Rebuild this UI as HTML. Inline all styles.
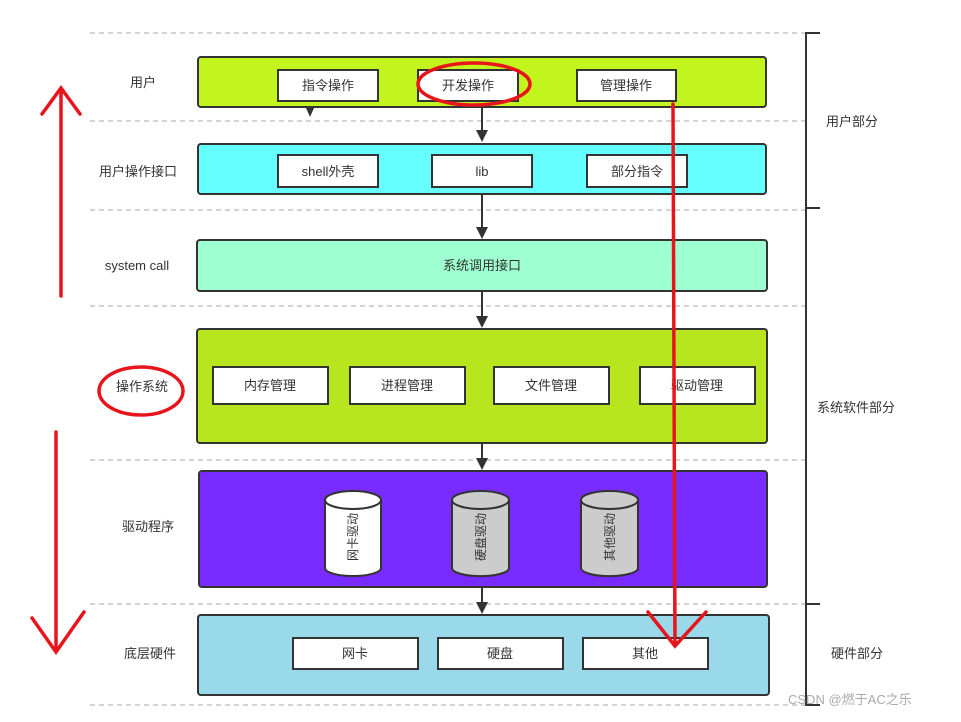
<!DOCTYPE html>
<html><head><meta charset="utf-8"><style>
body{margin:0;background:#fff;}
svg text{font-family:"Liberation Sans","Noto Sans CJK SC",sans-serif;font-size:13px;fill:#333;}
</style></head><body>
<svg width="961" height="717" xmlns="http://www.w3.org/2000/svg">
<g stroke="#aaa" stroke-dasharray="5,4" stroke-width="1">
<line x1="90" y1="33" x2="805" y2="33"/><line x1="90" y1="121" x2="805" y2="121"/>
<line x1="90" y1="210" x2="805" y2="210"/><line x1="90" y1="306" x2="805" y2="306"/>
<line x1="90" y1="460" x2="805" y2="460"/><line x1="90" y1="604" x2="805" y2="604"/>
<line x1="90" y1="705" x2="805" y2="705"/>
</g>
<g stroke="#333" stroke-width="2" fill="none">
<path d="M820 33H806V208H820M806 208V604H820M806 604V705H820"/>
</g>
<g stroke="#333" stroke-width="2">
<rect x="198" y="57" width="568" height="50" rx="3" fill="#c2f41e"/>
<rect x="198" y="144" width="568" height="50" rx="3" fill="#66ffff"/>
<rect x="197" y="240" width="570" height="51" rx="3" fill="#9effd0"/>
<rect x="197" y="329" width="570" height="114" rx="3" fill="#b8e61e"/>
<rect x="199" y="471" width="568" height="116" rx="3" fill="#782cff"/>
<rect x="198" y="615" width="571" height="80" rx="3" fill="#99d9ea"/>
</g>
<g stroke="#333" stroke-width="2" fill="#fff">
<rect x="278" y="70" width="100" height="31"/><rect x="418" y="70" width="100" height="31"/><rect x="577" y="70" width="99" height="31"/>
<rect x="278" y="155" width="100" height="32"/><rect x="432" y="155" width="100" height="32"/><rect x="587" y="155" width="100" height="32"/>
<rect x="213" y="367" width="115" height="37"/><rect x="350" y="367" width="115" height="37"/><rect x="494" y="367" width="115" height="37"/><rect x="640" y="367" width="115" height="37"/>
<rect x="293" y="638" width="125" height="31"/><rect x="438" y="638" width="125" height="31"/><rect x="583" y="638" width="125" height="31"/>
</g>
<g stroke="#333" stroke-width="2">
<path d="M325 500V568A28 8 0 0 0 381 568V500" fill="#fff"/><ellipse cx="353" cy="500" rx="28" ry="9" fill="#fff"/>
<path d="M452 500V568A28 8 0 0 0 509 568V500" fill="#ccc"/><ellipse cx="480.5" cy="500" rx="28.5" ry="9" fill="#ccc"/>
<path d="M581 500V568A28 8 0 0 0 638 568V500" fill="#ccc"/><ellipse cx="609.5" cy="500" rx="28.5" ry="9" fill="#ccc"/>
</g>
<g stroke="#333" stroke-width="2">
<line x1="482" y1="107" x2="482" y2="132"/><line x1="482" y1="194" x2="482" y2="229"/><line x1="482" y1="291" x2="482" y2="318"/><line x1="482" y1="443" x2="482" y2="460"/><line x1="482" y1="587" x2="482" y2="604"/>
</g>
<g fill="#333">
<path d="M476 130L488 130L482 142Z"/><path d="M476 227L488 227L482 239Z"/><path d="M476 316L488 316L482 328Z"/><path d="M476 458L488 458L482 470Z"/><path d="M476 602L488 602L482 614Z"/><path d="M306 108L314 108L310 117Z"/>
</g>
<g text-anchor="middle">
<text x="328" y="90">指令操作</text><text x="468" y="90">开发操作</text><text x="626" y="90">管理操作</text>
<text x="328" y="176">shell外壳</text><text x="482" y="176">lib</text><text x="637" y="176">部分指令</text>
<text x="482" y="270">系统调用接口</text>
<text x="270" y="390">内存管理</text><text x="407" y="390">进程管理</text><text x="551" y="390">文件管理</text><text x="697" y="390">驱动管理</text>
<text x="355" y="658">网卡</text><text x="500" y="658">硬盘</text><text x="645" y="658">其他</text>
<text x="143" y="87">用户</text><text x="138" y="176">用户操作接口</text><text x="137" y="270">system call</text>
<text x="142" y="391">操作系统</text><text x="148" y="531">驱动程序</text><text x="150" y="658">底层硬件</text>
<text x="852" y="126">用户部分</text><text x="856" y="412">系统软件部分</text><text x="857" y="658">硬件部分</text>
</g>
<g text-anchor="middle">
<text transform="translate(357,537) rotate(-90)" style="font-size:12px">网卡驱动</text>
<text transform="translate(485,537) rotate(-90)" style="font-size:12px">硬盘驱动</text>
<text transform="translate(614,537) rotate(-90)" style="font-size:12px">其他驱动</text>
</g>
<g stroke="#e8141c" stroke-width="3.5" fill="none" stroke-linecap="round">
<ellipse cx="474" cy="84" rx="56" ry="21"/>
<ellipse cx="141" cy="391" rx="42" ry="24"/>
<line x1="673" y1="104" x2="675" y2="645"/><path d="M648 612L675 646L706 612"/>
<line x1="61" y1="296" x2="61" y2="90"/><path d="M42 114L61 88L80 114"/>
<line x1="56" y1="432" x2="56" y2="650"/><path d="M32 618L56 652L84 612"/>
</g>
<text x="788" y="704" style="fill:#aaa;font-size:13px">CSDN @燃于AC之乐</text>
</svg>
</body></html>
